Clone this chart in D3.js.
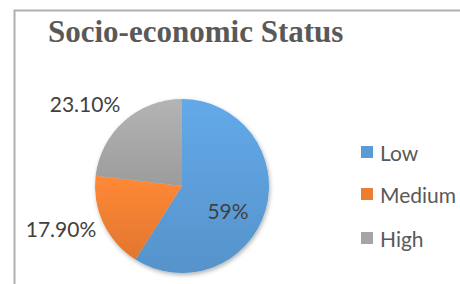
<!DOCTYPE html>
<html><head><meta charset="utf-8">
<script src="https://cdn.jsdelivr.net/npm/d3@7"></script>
<style>body{margin:0;background:#fff}svg{display:block}</style>
</head><body>
<script>
const categories = ["Low", "Medium", "High"];
const values = [59, 17.9, 23.1];
const labels = ["59%", "17.90%", "23.10%"];
const colors = ["#5B9BD5", "#ED7D31", "#A5A5A5"];
const title = "Socio-economic Status";

const W = 460, H = 284;
const svg = d3.select("body").append("svg").attr("width", W).attr("height", H);

// frame
svg.append("path").attr("d", `M14.5,${H} L14.5,10.5 L${W},10.5`)
  .attr("fill", "none").attr("stroke", "#b0b0b0").attr("stroke-width", 2);

svg.append("text").attr("x", 48).attr("y", 42)
  .attr("font-family", "Liberation Serif, Times New Roman, serif")
  .attr("font-weight", "bold").attr("font-size", 31).attr("fill", "#595959")
  .text(title);

const defs = svg.append("defs");
colors.forEach((c, i) => {
  const g = defs.append("linearGradient").attr("id", "g" + i)
    .attr("x1", 0).attr("y1", 0).attr("x2", 0).attr("y2", 1);
  g.append("stop").attr("offset", "0%").attr("stop-color", d3.color(c).brighter(0.25));
  g.append("stop").attr("offset", "100%").attr("stop-color", d3.color(c).darker(0.15));
});
const f = defs.append("filter").attr("id", "sh").attr("x", "-20%").attr("y", "-20%").attr("width", "140%").attr("height", "140%");
f.append("feDropShadow").attr("dx", 1).attr("dy", 2).attr("stdDeviation", 2).attr("flood-color", "#000").attr("flood-opacity", 0.3);

const cx = 182, cy = 186, r = 87;
const pie = d3.pie().sort(null).value(d => d)(values);
const arc = d3.arc().innerRadius(0).outerRadius(r);
const g = svg.append("g").attr("transform", `translate(${cx},${cy})`);
g.append("g").attr("filter", "url(#sh)").selectAll("path").data(pie).join("path")
  .attr("d", arc).attr("fill", (d, i) => `url(#g${i})`);

const labelPos = [[228, 210], [61, 228], [85, 103]];
svg.selectAll("text.lbl").data(labels).join("text").attr("class", "lbl")
  .attr("x", (d, i) => labelPos[i][0]).attr("y", (d, i) => labelPos[i][1])
  .attr("text-anchor", "middle").attr("dominant-baseline", "central")
  .attr("font-family", "Lato, Open Sans, sans-serif").attr("font-size", 21)
  .attr("fill", "#404040").text(d => d);

const leg = svg.append("g");
const ly = [152, 194, 238];
categories.forEach((c, i) => {
  leg.append("rect").attr("x", 361).attr("y", ly[i] - 6).attr("width", 12).attr("height", 12).attr("fill", colors[i]);
  leg.append("text").attr("x", 380).attr("y", ly[i]).attr("dominant-baseline", "central")
    .attr("font-family", "Lato, Open Sans, sans-serif").attr("font-size", 21)
    .attr("fill", "#595959").text(c);
});
</script>
</body></html>
